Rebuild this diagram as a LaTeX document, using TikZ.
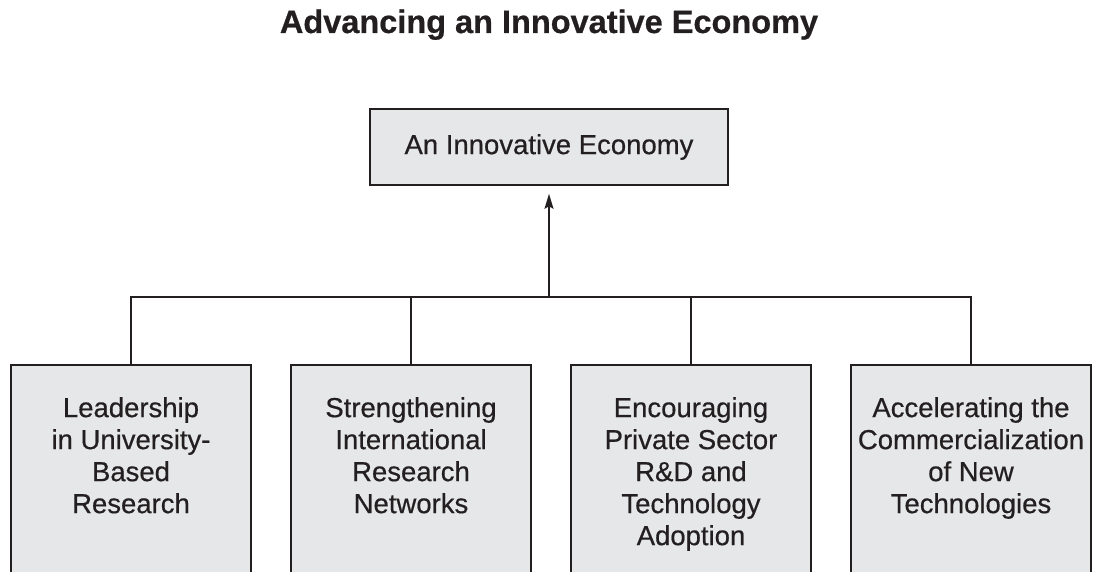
\documentclass[tikz,border=0pt]{standalone}
\usepackage{fontspec}
\setmainfont{Liberation Sans}
\newfontfamily\boxfont{Liberation Sans}[FakeBold=0.5]
\newfontfamily\headfont{Liberation Sans}[FakeBold=0.6]
\usetikzlibrary{arrows.meta}
\usetikzlibrary{positioning}
\definecolor{BoxGray}{RGB}{230,231,232}
\definecolor{InkGray}{RGB}{35,31,32}
\tikzset{
	>={Stealth[length=15pt,width=9pt,inset=2.5pt]},
	goalbox/.style={draw=InkGray, fill=BoxGray, line width=1.6pt, minimum width=358pt, minimum height=76pt, inner sep=0pt, text=InkGray, font=\boxfont\fontsize{27.5}{32}\selectfont},
	leafbox/.style={draw=InkGray, fill=BoxGray, line width=1.6pt, minimum width=240pt, minimum height=260pt, inner sep=0pt, anchor=north},
	leaftext/.style={align=center, inner sep=0pt, anchor=north, text=InkGray, font=\boxfont\fontsize{27.5}{32}\selectfont},
	link/.style={InkGray, line width=1.6pt},
	heading/.style={anchor=base, text=InkGray, font=\headfont\bfseries\fontsize{32.5}{38}\selectfont}
}

\begin{document}
\begin{tikzpicture}[x=1pt, y=1pt, line join=miter]

	% Page frame
	\useasboundingbox (0,0) rectangle (1093,571);
	\clip (0,0) rectangle (1093,571);

	% Heading
	\node[heading] (title) at (549,538) {Advancing an Innovative Economy};

	% Goal on top
	\node[goalbox] (goal) at (549,424) {An Innovative Economy};

	% Four supporting boxes (run off the bottom)
	\node[leafbox] (lead) at (131,207) {};
	\node[leafbox] (strength) at (411,207) {};
	\node[leafbox] (encour) at (691,207) {};
	\node[leafbox] (accel) at (971,207) {};

	% Their texts
	\node[leaftext, below=33pt of lead.north] (leadtxt) {Leadership\\in University-\\Based\\Research};
	\node[leaftext, below=33pt of strength.north] (strengthtxt) {Strengthening\\International\\Research\\Networks};
	\node[leaftext, below=33pt of encour.north] (encourtxt) {Encouraging\\Private Sector\\R\&D and\\Technology\\Adoption};
	\node[leaftext, below=33pt of accel.north] (acceltxt) {Accelerating the\\Commercialization\\of New\\Technologies};

	% Bus joining the boxes
	\coordinate (bus) at (549,274);
	\draw[link] (lead.north) |- (bus) -| (accel.north);
	\draw[link] (strength.north) -- (strength.north |- bus);
	\draw[link] (encour.north) -- (encour.north |- bus);

	% Arrow up to the goal
	\draw[link, ->, shorten >=8pt] (bus) -- (goal.south);

\end{tikzpicture}
\end{document}
